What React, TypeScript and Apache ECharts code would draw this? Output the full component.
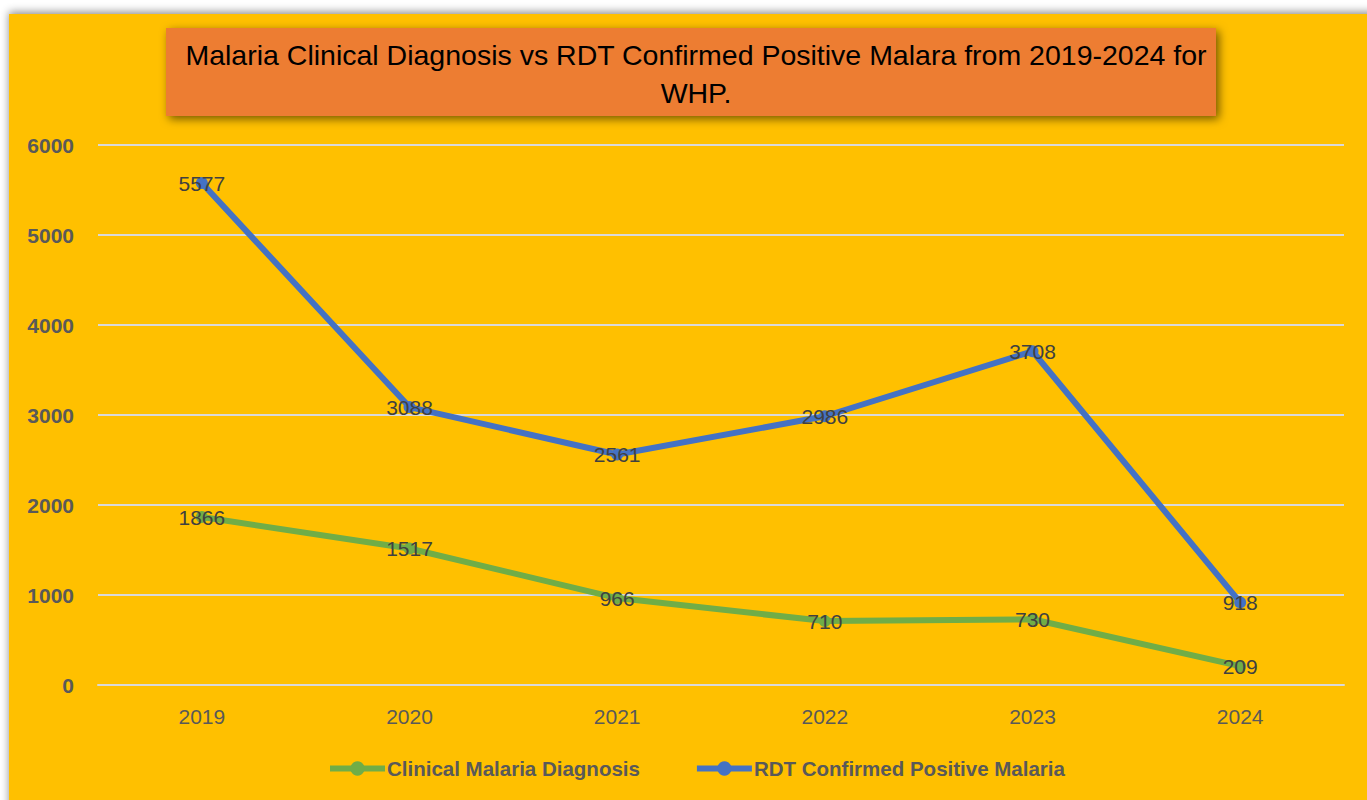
import React, { useEffect, useRef } from "react";
import * as echarts from "echarts";

const years = ["2019", "2020", "2021", "2022", "2023", "2024"];
const clinical = [1866, 1517, 966, 710, 730, 209];
const rdt = [5577, 3088, 2561, 2986, 3708, 918];
const seriesNames = ["Clinical Malaria Diagnosis", "RDT Confirmed Positive Malaria"];
const titleText = "Malaria Clinical Diagnosis vs RDT Confirmed Positive Malara from 2019-2024 for\nWHP.";

const FONT = "'Liberation Sans', Arial, sans-serif";

export default function App() {
  const ref = useRef<HTMLDivElement>(null);
  useEffect(() => {
    if (!ref.current) return;
    const chart = echarts.init(ref.current, null, { renderer: "svg" });
    const labelStyle = {
      show: true,
      position: "inside" as const,
      color: "#404040",
      fontSize: 21,
      fontFamily: FONT,
    };
    chart.setOption({
      animation: false,
      backgroundColor: "#ffffff",
      graphic: [
        {
          type: "rect",
          z: -10,
          shape: { x: 9, y: 14, width: 1370, height: 800 },
          style: { fill: "#FFC000", shadowBlur: 8, shadowColor: "rgba(0,0,0,0.45)", shadowOffsetY: -2 },
        },
        {
          type: "rect",
          z: -5,
          shape: { x: 166, y: 28, width: 1050, height: 88 },
          style: { fill: "#ED7D31", shadowBlur: 10, shadowColor: "rgba(0,0,0,0.55)", shadowOffsetX: 3, shadowOffsetY: 3 },
        },
      ],
      title: {
        text: titleText,
        left: 691,
        top: 31,
        textAlign: "center",
        textStyle: {
          color: "#000000",
          fontSize: 28.5,
          fontWeight: "normal",
          fontFamily: FONT,
          lineHeight: 38,
        },
      },
      legend: {
        left: 322,
        top: 753,
        itemWidth: 55,
        itemHeight: 18,
        itemGap: 54,
        lineStyle: { width: 6 },
        textStyle: { color: "#595959", fontSize: 20.5, fontWeight: "bold", fontFamily: FONT, padding: [0, 0, 0, -3] },
        data: seriesNames,
      },
      grid: { left: 98, right: 23, top: 145, bottom: 115, containLabel: false },
      xAxis: {
        type: "category",
        data: years,
        boundaryGap: true,
        axisLine: { show: true, lineStyle: { color: "#D9D9D9", width: 2 } },
        axisTick: { show: false },
        axisLabel: { color: "#595959", fontSize: 21, fontFamily: FONT, margin: 21 },
      },
      yAxis: {
        type: "value",
        min: 0,
        max: 6000,
        interval: 1000,
        axisLine: { show: false },
        axisTick: { show: false },
        splitLine: { lineStyle: { color: "#D9D9D9", width: 2 } },
        axisLabel: {
          color: "#595959",
          fontSize: 21,
          fontWeight: "bold",
          fontFamily: FONT,
          margin: 24,
          formatter: (v: number) => String(v),
        },
      },
      series: [
        {
          name: seriesNames[0],
          type: "line",
          data: clinical,
          color: "#70AD47",
          lineStyle: { width: 6, color: "#70AD47" },
          symbol: "circle",
          symbolSize: 12,
          itemStyle: { color: "#70AD47" },
          label: labelStyle,
        },
        {
          name: seriesNames[1],
          type: "line",
          data: rdt,
          color: "#4472C4",
          lineStyle: { width: 6, color: "#4472C4" },
          symbol: "circle",
          symbolSize: 12,
          itemStyle: { color: "#4472C4" },
          label: labelStyle,
        },
      ],
    });
    return () => chart.dispose();
  }, []);
  return (
    <div
      ref={ref}
      style={{ position: "fixed", left: 0, top: 0, width: 1367, height: 800 }}
    />
  );
}
